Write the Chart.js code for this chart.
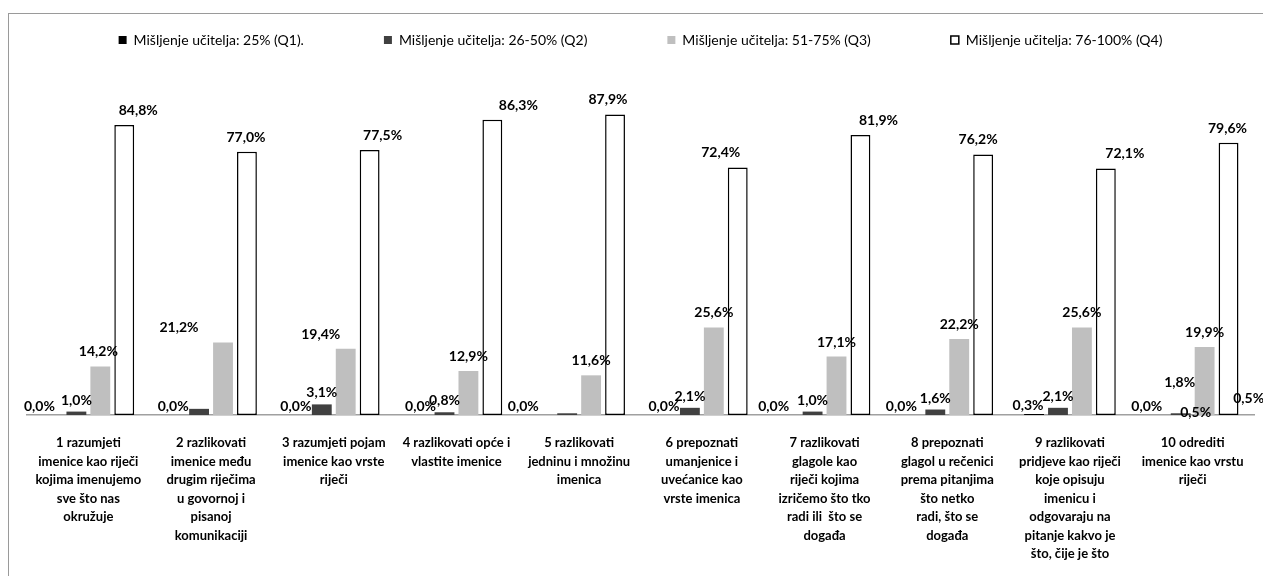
<!DOCTYPE html>
<html>
<head>
<meta charset="utf-8">
<title>Mišljenje učitelja</title>
<script src="https://cdn.jsdelivr.net/npm/chart.js@4"></script>
<style>
    html, body { margin: 0; padding: 0; background: #fff; overflow: hidden; }
    #wrap { position: relative; width: 1263px; height: 576px; }
    #frame { position: absolute; left: 8px; top: 13px; width: 1300px; height: 620px; border: 1px solid #9a9a9a; }
    #chart { position: absolute; left: 0; top: 0; }
</style>
</head>
<body>
<div id="wrap">
    <div id="frame"></div>
    <canvas id="chart" width="1263" height="576"></canvas>
</div>
<script>
const CATEGORIES = [
    ['1 razumjeti', 'imenice kao riječi', 'kojima imenujemo', 'sve što nas', 'okružuje'],
    ['2 razlikovati', 'imenice među', 'drugim riječima', 'u govornoj i', 'pisanoj', 'komunikaciji'],
    ['3 razumjeti pojam', 'imenice kao vrste', 'riječi'],
    ['4 razlikovati opće i', 'vlastite imenice'],
    ['5 razlikovati', 'jedninu i množinu', 'imenica'],
    ['6 prepoznati', 'umanjenice i', 'uvećanice kao', 'vrste imenica'],
    ['7 razlikovati', 'glagole kao', 'riječi kojima', 'izričemo što tko', 'radi ili  što se', 'događa'],
    ['8 prepoznati', 'glagol u rečenici', 'prema pitanjima', 'što netko', 'radi, što se', 'događa'],
    ['9 razlikovati', 'pridjeve kao riječi', 'koje opisuju', 'imenicu i', 'odgovaraju na', 'pitanje kakvo je', 'što, čije je što'],
    ['10 odrediti', 'imenice kao vrstu', 'riječi']
];

const SERIES_NAMES = [
    'Mišljenje učitelja: 25% (Q1).',
    'Mišljenje učitelja: 26-50% (Q2)',
    'Mišljenje učitelja: 51-75% (Q3)',
    'Mišljenje učitelja: 76-100% (Q4)'
];

const Q1 = [0.0, 0.0, 0.0, 0.0, 0.0, 0.0, 0.0, 0.0, 0.3, 0.0];
const Q2 = [1.0, 1.8, 3.1, 0.8, 0.5, 2.1, 1.0, 1.6, 2.1, 0.5];
const Q3 = [14.2, 21.2, 19.4, 12.9, 11.6, 25.6, 17.1, 22.2, 25.6, 19.9];
const Q4 = [84.8, 77.0, 77.5, 86.3, 87.9, 72.4, 81.9, 76.2, 72.1, 79.6];

// label nudges, per series then per group
const LABEL_DX = [
    [-13, -2, -2, 0, -20, -2, -15, -10, -6, -10],
    [0, 0, 0, 0, 0, 0, 0, 0, 0, 0],
    [-2, -44, -25, 0, 0, 0, 0, 0, 0, 0],
    [14, -1, 13, 26, -7, -17, 18, -5, 19, -1]
];
const LABEL_GAP = [4, 7, 10, 10];

// a few Q2 labels were dragged next to the last group
const MOVED_LABELS = {
    '1:1': { at: [1, 9], dx: -1, dy: -19 },
    '1:4': { at: [1, 9], dx: 68, dy: -3 },
    '1:9': { at: [1, 9], dx: 15, dy: 11 }
};

const fmt = v => v.toFixed(1).replace('.', ',') + '%';

const valueLabels = {
    id: 'valueLabels',
    afterDatasetsDraw(chart) {
        const ctx = chart.ctx;
        ctx.save();
        ctx.font = 'bold 14px Lato, sans-serif';
        ctx.fillStyle = '#000';
        ctx.textAlign = 'center';
        ctx.textBaseline = 'alphabetic';
        chart.data.datasets.forEach((ds, d) => {
            const meta = chart.getDatasetMeta(d);
            meta.data.forEach((bar, i) => {
                let anchor = bar;
                let dx = LABEL_DX[d][i];
                let dy = 0;
                const moved = MOVED_LABELS[d + ':' + i];
                if (moved) {
                    anchor = chart.getDatasetMeta(moved.at[0]).data[moved.at[1]];
                    dx = moved.dx;
                    dy = moved.dy;
                }
                ctx.fillText(fmt(ds.data[i]), anchor.x + dx, anchor.y - LABEL_GAP[d] + dy);
            });
        });
        ctx.restore();
    }
};

// legend item spacing comes from labels.padding, so the box height is set by hand
const legendBox = {
    id: 'legendBox',
    beforeInit(chart) {
        const fit = chart.legend.fit;
        chart.legend.fit = function () {
            fit.call(this);
            this.height = 120;
        };
    }
};

const makeSet = (label, data, bg, border, width) => ({
    label: label,
    data: data,
    backgroundColor: bg,
    borderColor: border,
    borderWidth: width,
    borderSkipped: false,
    categoryPercentage: 0.78,
    barPercentage: 0.83
});

new Chart(document.getElementById('chart').getContext('2d'), {
    type: 'bar',
    data: {
        labels: CATEGORIES,
        datasets: [
            makeSet(SERIES_NAMES[0], Q1, '#000000', '#000000', 0),
            makeSet(SERIES_NAMES[1], Q2, '#404040', '#404040', 0),
            makeSet(SERIES_NAMES[2], Q3, '#bfbfbf', '#bfbfbf', 0),
            makeSet(SERIES_NAMES[3], Q4, '#ffffff', '#000000', 1.5)
        ]
    },
    options: {
        responsive: false,
        animation: false,
        layout: { padding: { top: -47, left: 27, right: 9, bottom: 0 } },
        plugins: {
            tooltip: { enabled: false },
            legend: {
                position: 'top',
                labels: {
                    boxWidth: 8,
                    boxHeight: 8,
                    padding: 80,
                    color: '#000',
                    font: { family: 'Lato, sans-serif', size: 14 }
                }
            }
        },
        scales: {
            x: {
                grid: { display: false, drawTicks: false },
                border: { display: true, color: '#a0a0a0', width: 1.5 },
                ticks: {
                    color: '#000',
                    padding: 19,
                    maxRotation: 0,
                    autoSkip: false,
                    font: { family: "'Liberation Sans Narrow', Lato, sans-serif", size: 13, weight: 'bold', lineHeight: 1.42 }
                },
                afterFit(scale) { scale.height = 161; }
            },
            y: { display: false, min: 0, max: 100 }
        }
    },
    plugins: [valueLabels, legendBox]
});
</script>
</body>
</html>
